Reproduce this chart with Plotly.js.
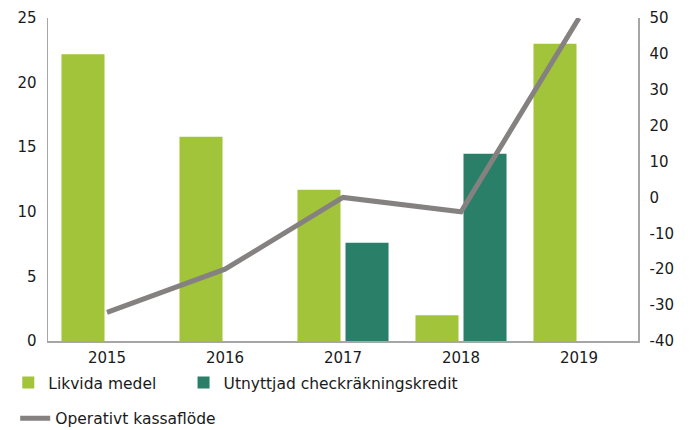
<!DOCTYPE html>
<html>
<head>
<meta charset="utf-8">
<script src="https://cdn.plot.ly/plotly-3.0.1.min.js"></script>
<style>html,body{margin:0;padding:0;background:#fff;}#chart{width:690px;height:430px;}</style>
</head>
<body>
<div id="chart"></div>
<script>
const years = ['2015', '2016', '2017', '2018', '2019'];
const likvidaMedel = [22.2, 15.8, 11.7, 2.0, 23.0];
const utnyttjadKredit = [null, null, 7.6, 14.5, null];
const operativtKassaflode = [-32, -20, 0, -4, 50];
const leftTicks = [0, 5, 10, 15, 20, 25];
const rightTicks = [-40, -30, -20, -10, 0, 10, 20, 30, 40, 50];

const FONT = 'DejaVu Sans, Arial, sans-serif';
const TXT = '#1a1a1a';
const AXIS = '#a6a6a6';

const data = [
  {type: 'bar', name: 'Likvida medel', x: years, y: likvidaMedel,
   marker: {color: '#a2c43a'}, legend: 'legend', hoverinfo: 'skip'},
  {type: 'bar', name: 'Utnyttjad checkräkningskredit', x: years, y: utnyttjadKredit,
   marker: {color: '#2a7f68'}, legend: 'legend3', hoverinfo: 'skip'},
  {type: 'scatter', mode: 'lines', name: 'Operativt kassaflöde', x: years, y: operativtKassaflode,
   yaxis: 'y2', line: {color: '#858181', width: 5}, legend: 'legend2', hoverinfo: 'skip'}
];

const legendBase = {orientation: 'h', xref: 'container', xanchor: 'left', yref: 'container',
                    yanchor: 'top', font: {family: FONT, size: 15.5, color: TXT},
                    bgcolor: 'rgba(0,0,0,0)'};

const layout = {
  width: 690, height: 430,
  margin: {l: 48, r: 52, t: 18, b: 89},
  paper_bgcolor: '#fff', plot_bgcolor: '#fff',
  font: {family: FONT, size: 15, color: TXT},
  barmode: 'group', bargap: 0.186, bargroupgap: 0.104,
  showlegend: true,
  xaxis: {type: 'category', showgrid: false, showline: true, linecolor: AXIS, linewidth: 1.5,
          ticks: 'outside', ticklen: 2, tickcolor: 'rgba(0,0,0,0)', zeroline: false,
          tickfont: {family: FONT, size: 15, color: TXT}},
  yaxis: {range: [0, 25], tickvals: leftTicks, showgrid: false, zeroline: false,
          showline: true, linecolor: AXIS, linewidth: 1.5,
          ticks: 'outside', ticklen: 7, tickcolor: 'rgba(0,0,0,0)',
          tickfont: {family: FONT, size: 15, color: TXT}},
  yaxis2: {range: [-40, 50], tickvals: rightTicks, ticktext: rightTicks.map(String),
           overlaying: 'y', side: 'right',
           showgrid: false, zeroline: false, showline: true, linecolor: AXIS, linewidth: 1.5,
           ticks: 'outside', ticklen: 7, tickcolor: 'rgba(0,0,0,0)',
           tickfont: {family: FONT, size: 15, color: TXT}},
  legend: Object.assign({}, legendBase, {x: 0.012, y: 0.149}),
  legend3: Object.assign({}, legendBase, {x: 0.266, y: 0.149}),
  legend2: Object.assign({}, legendBase, {x: 0.022, y: 0.066})
};

Plotly.newPlot('chart', data, layout, {displayModeBar: false, staticPlot: true});
</script>
</body>
</html>
